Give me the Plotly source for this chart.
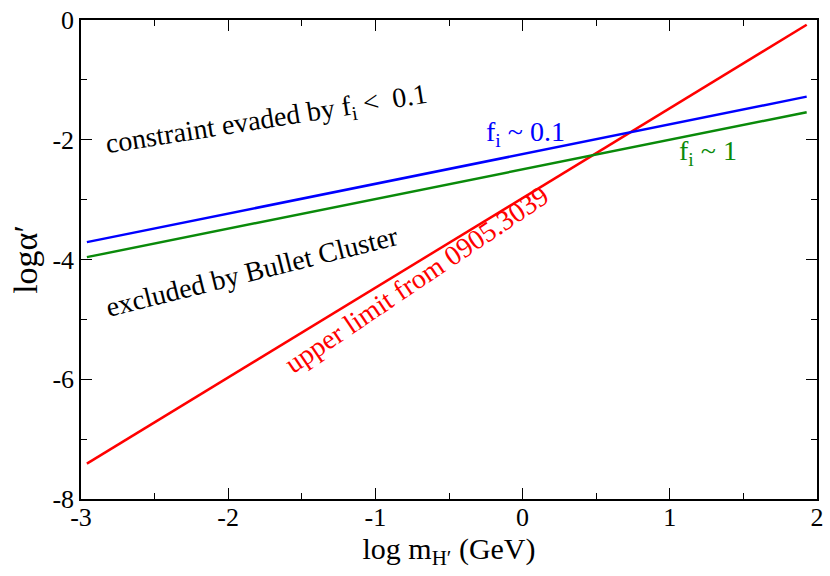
import plotly.graph_objects as go

# data
x_ends = [-2.96, 1.93]
red_upper_limit = [-7.41, -0.08]
blue_fi_01 = [-3.71, -1.28]
green_fi_1 = [-3.96, -1.54]

x_ticks = [-3, -2, -1, 0, 1, 2]
y_ticks = [0, -2, -4, -6, -8]

FONT = "Liberation Serif"

fig = go.Figure()
fig.add_trace(go.Scatter(x=x_ends, y=red_upper_limit, mode="lines",
                         line=dict(color="#ff0000", width=2.5), showlegend=False))
fig.add_trace(go.Scatter(x=x_ends, y=blue_fi_01, mode="lines",
                         line=dict(color="#0000ff", width=2.5), showlegend=False))
fig.add_trace(go.Scatter(x=x_ends, y=green_fi_1, mode="lines",
                         line=dict(color="#0a8a0a", width=2.5), showlegend=False))

annots = [
    dict(x=-1.74, y=-1.68, text="constraint evaded by f<sub>i</sub> <  0.1", textangle=-9, color="black"),
    dict(x=-1.84, y=-4.20, text="excluded by Bullet Cluster", textangle=-14, color="black"),
    dict(x=-0.72, y=-4.33, text="upper limit from 0905.3039", textangle=-34, color="#ff0000"),
    dict(x=0.02, y=-1.90, text="f<sub>i</sub> ~ 0.1", textangle=0, color="#0000ff"),
    dict(x=1.26, y=-2.22, text="f<sub>i</sub> ~ 1", textangle=0, color="#0a8a0a"),
]
for a in annots:
    fig.add_annotation(x=a["x"], y=a["y"], text=a["text"], textangle=a["textangle"],
                       showarrow=False, font=dict(family=FONT, size=28, color=a["color"]),
                       xanchor="center", yanchor="middle")

fig.update_xaxes(
    range=[-3, 2], tickmode="array", tickvals=x_ticks, ticktext=[str(v) for v in x_ticks],
    showgrid=False, zeroline=False, showline=True, linecolor="black", linewidth=1.5,
    mirror="ticks", ticks="inside", ticklen=11, tickwidth=1.2, tickcolor="black",
    tickfont=dict(family=FONT, size=26, color="black"), ticklabeloverflow="allow",
    ticklabelstandoff=-6,
    minor=dict(dtick=0.5, ticks="inside", ticklen=6, tickcolor="black", tickwidth=1.2, showgrid=False),
    title=dict(text="log m<sub>H′</sub> (GeV)", font=dict(family=FONT, size=30, color="black"), standoff=0),
)
fig.update_yaxes(
    range=[-8, 0], tickmode="array", tickvals=y_ticks, ticktext=[str(v) for v in y_ticks],
    showgrid=False, zeroline=False, showline=True, linecolor="black", linewidth=1.5,
    mirror="ticks", ticks="inside", ticklen=11, tickwidth=1.2, tickcolor="black",
    tickfont=dict(family=FONT, size=26, color="black"), ticklabeloverflow="allow",
    minor=dict(dtick=1, ticks="inside", ticklen=6, tickcolor="black", tickwidth=1.2, showgrid=False),
    title=dict(text="logα′", font=dict(family=FONT, size=34, color="black"), standoff=4),
)

fig.update_layout(
    width=830, height=576,
    margin=dict(l=81, r=6, t=12, b=77),
    plot_bgcolor="white", paper_bgcolor="white",
    font=dict(family=FONT, size=26, color="black"),
)

fig.write_html("out.html")
